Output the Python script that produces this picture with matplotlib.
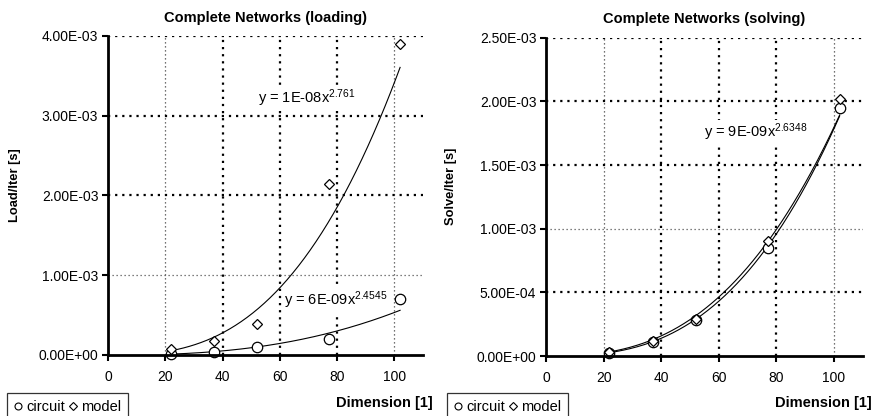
import numpy as np
import matplotlib
matplotlib.use("Agg")
import matplotlib.pyplot as plt
from matplotlib.lines import Line2D

plt.rcParams['font.family'] = ['Liberation Sans', 'DejaVu Sans']
plt.rcParams['mathtext.fontset'] = 'custom'
plt.rcParams['mathtext.rm'] = 'Liberation Sans'
plt.rcParams['mathtext.it'] = 'Liberation Sans'

# ---- data ----
dimension = [22, 37, 52, 77, 102]
load_circuit = [1.2e-5, 4.0e-5, 1.05e-4, 2.05e-4, 7.05e-4]
load_model = [7.0e-5, 1.8e-4, 3.9e-4, 2.15e-3, 3.9e-3]
solve_circuit = [2.7e-5, 1.1e-4, 2.8e-4, 8.5e-4, 1.95e-3]
solve_model = [3.5e-5, 1.2e-4, 2.9e-4, 9.05e-4, 2.02e-3]

titles = ["Complete Networks (loading)", "Complete Networks (solving)"]
ylabels = ["Load/Iter [s]", "Solve/Iter [s]"]
xlabel = "Dimension [1]"
xticks = [0, 20, 40, 60, 80, 100]
yticks_load = [0.0, 1e-3, 2e-3, 3e-3, 4e-3]
yticks_solve = [0.0, 5e-4, 1e-3, 1.5e-3, 2e-3, 2.5e-3]
eq_load = [("y = 1E-08x", "2.761"), ("y = 6E-09x", "2.4545")]
eq_solve = [("y = 9E-09x", "2.6348")]

W, H = 875, 416
fig = plt.figure(figsize=(W / 100, H / 100), dpi=100)


def fpos(x0, y0, x1, y1):
    return [x0 / W, 1 - y1 / H, (x1 - x0) / W, (y1 - y0) / H]


def power_fit(x, y):
    b, a = np.polyfit(np.log(x), np.log(y), 1)
    return np.exp(a), b


def style_axes(ax, yticks, ymax, thin_y):
    ax.set_xlim(0, 110)
    ax.set_ylim(0, ymax)
    ax.set_xticks(xticks)
    ax.set_yticks(yticks)
    ax.set_yticklabels(['{:.2E}'.format(v) for v in yticks])
    ax.tick_params(axis='both', direction='out', length=4, width=1.5,
                   labelsize=10, colors='black')
    ax.tick_params(axis='x', pad=7)
    ax.tick_params(axis='y', pad=3)
    for s in ['top', 'right']:
        ax.spines[s].set_visible(False)
    for s in ['left', 'bottom']:
        ax.spines[s].set_linewidth(2.0)
        ax.spines[s].set_zorder(5)
    # grid
    for xv in xticks[1:]:
        thin = xv in (20, 100)
        ax.axvline(xv, color='#444444' if thin else 'black',
                   lw=0.9 if thin else 1.6, ls=(0, (1, 2.2)), zorder=1)
    for yv in yticks[1:]:
        thin = yv in thin_y
        ax.axhline(yv, color='#555555' if thin else 'black',
                   lw=0.9 if thin else 1.6, ls=(0, (1, 2.2)), zorder=1)


def plot_series(ax, x, yc, ym):
    xs = np.linspace(min(x), max(x), 200)
    for y in (ym, yc):
        a, b = power_fit(x, y)
        ax.plot(xs, a * xs ** b, color='black', lw=0.8, zorder=3)
    ax.plot(x, yc, 'o', ms=7.5, mfc='white', mec='black', mew=0.9,
            zorder=4, clip_on=False)
    ax.plot(x, ym, 'D', ms=5.6, mfc='white', mec='black', mew=0.9,
            zorder=4, clip_on=False)


def add_legend(x0, y0):
    handles = [Line2D([], [], ls='none', marker='o', ms=5.0, mfc='white',
                      mec='black', mew=0.8),
               Line2D([], [], ls='none', marker='D', ms=4.2, mfc='white',
                      mec='black', mew=0.8)]
    leg = fig.legend(handles, ['circuit', 'model'], loc='upper left',
                     bbox_to_anchor=(x0 / W, 1 - y0 / H), ncol=2,
                     frameon=True, fancybox=False, edgecolor='black',
                     fontsize=10.5, handlelength=0.5, handletextpad=0.3,
                     columnspacing=0.3, borderpad=0.5, borderaxespad=0)
    leg.get_frame().set_linewidth(0.9)


def eq_text(ax, x, y, eq):
    ax.text(x, y, r'%s$^{%s}$' % eq, fontsize=10.5, ha='left', va='center',
            zorder=6, bbox=dict(facecolor='white', edgecolor='none', pad=1.5))


# left panel
ax1 = fig.add_axes(fpos(108, 36, 423, 355))
style_axes(ax1, yticks_load, 4e-3, thin_y=(1e-3,))
plot_series(ax1, dimension, load_circuit, load_model)
ax1.text(0.5, 1 + 18 / 319, titles[0], transform=ax1.transAxes,
         ha='center', va='center', fontsize=10.5, fontweight='bold')
ax1.set_ylabel(ylabels[0], fontsize=9.3, fontweight='bold')
ax1.yaxis.set_label_coords(-0.275, 0.534)
eq_text(ax1, 52.5, 3.22e-3, eq_load[0])
eq_text(ax1, 61.5, 0.69e-3, eq_load[1])
fig.text(433 / W, 1 - 403 / H, xlabel, ha='right', va='center',
         fontsize=10.5, fontweight='bold')
add_legend(7, 393)

# right panel
ax2 = fig.add_axes(fpos(546, 37.7, 862.7, 356))
style_axes(ax2, yticks_solve, 2.5e-3, thin_y=(1e-3,))
plot_series(ax2, dimension, solve_circuit, solve_model)
ax2.text(0.5, 1 + 19 / 318, titles[1], transform=ax2.transAxes,
         ha='center', va='center', fontsize=10.5, fontweight='bold')
ax2.set_ylabel(ylabels[1], fontsize=9.3, fontweight='bold')
ax2.yaxis.set_label_coords(-0.28, 0.534)
eq_text(ax2, 55.0, 1.755e-3, eq_solve[0])
fig.text(872 / W, 1 - 403 / H, xlabel, ha='right', va='center',
         fontsize=10.5, fontweight='bold')
add_legend(447, 393)

fig.savefig('out.png', dpi=100)
